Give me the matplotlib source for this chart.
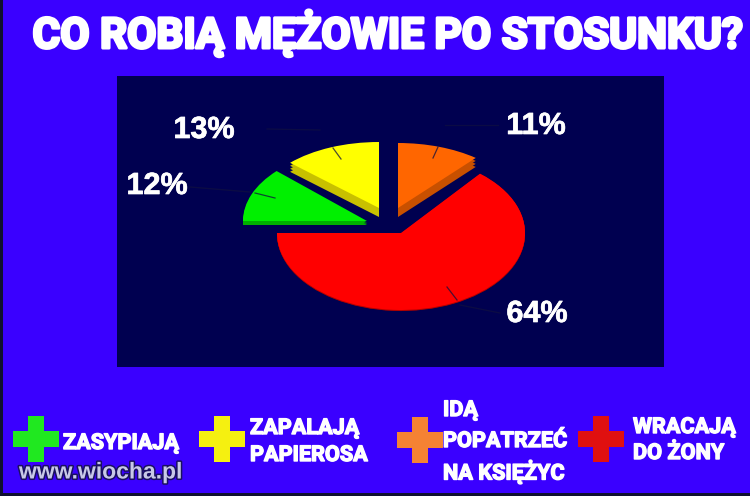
import matplotlib
matplotlib.use("Agg")
import matplotlib.pyplot as plt
from matplotlib.patches import Rectangle
from matplotlib.transforms import Affine2D
import matplotlib.patheffects as pe

title = "CO ROBIĄ MĘŻOWIE PO STOSUNKU?"
categories = ["WRACAJĄ DO ŻONY", "IDĄ POPATRZEĆ NA KSIĘŻYC", "ZAPALAJĄ PAPIEROSA", "ZASYPIAJĄ"]
shares = [64, 11, 13, 12]
top_colors = ["#FF0000", "#FF6600", "#FFFF00", "#00F000"]
side_colors = ["#B00000", "#C85000", "#C8C000", "#00B000"]
# wedge placement in pixels: apex x, apex y, radius x, radius y, extrusion depth
placement = [(401, 233, 124, 77, 1), (398, 208, 122, 65, 9), (379, 208, 122, 66, 9), (367, 221, 124, 73, 4)]
label_pos = [(537, 314), (536, 126), (204, 130), (157, 186)]
leaders = [
    [(447, 287), (457, 300)], [(460, 305), (500, 313)],
    [(438, 147), (433, 158)], [(445, 125), (498, 125)],
    [(333, 148), (341, 159)], [(267, 129), (320, 130)],
    [(255, 193), (275, 198)], [(190, 187), (250, 192)],
]

BG = "#3A00FF"
NAVY = "#000050"

fig = plt.figure(figsize=(7.5, 4.96), dpi=100, facecolor=BG)
ax = fig.add_axes([0, 0, 1, 1])

ax.add_patch(Rectangle((117, 76), 547, 291, fc=NAVY, ec="none", zorder=1))
ax.add_patch(Rectangle((0, 0), 3, 496, fc="#101030", ec="none", zorder=1))
ax.add_patch(Rectangle((0, 493), 750, 3, fc="#101030", ec="none", zorder=1))

for layer in (1.0, 0.66, 0.33):
    wedges, _ = ax.pie(shares, colors=side_colors, startangle=180, counterclock=True)
    for w, (cx, cy, rx, ry, d) in zip(wedges, placement):
        w.set_transform(Affine2D().scale(rx, -ry).translate(cx, cy + d * layer) + ax.transData)
        w.set_zorder(2)
        w.set_linewidth(0)
wedges, _ = ax.pie(shares, colors=top_colors, startangle=180, counterclock=True)
for w, (cx, cy, rx, ry, d) in zip(wedges, placement):
    w.set_transform(Affine2D().scale(rx, -ry).translate(cx, cy) + ax.transData)
    w.set_zorder(3)
    w.set_linewidth(0)

for seg in leaders:
    ax.plot([seg[0][0], seg[1][0]], [seg[0][1], seg[1][1]], color="#101040", lw=0.9, alpha=0.75, zorder=4)

for v, (x, y) in zip(shares, label_pos):
    ax.text(x, y, f"{v}%", color="white", fontsize=22, fontweight="bold",
            family="Liberation Sans", ha="center", va="center", zorder=5,
            path_effects=[pe.withStroke(linewidth=0.5, foreground="white")])

heavy = [pe.withStroke(linewidth=2.2, foreground="white")]
ax.text(388, 33, title, color="white", fontsize=30.5, fontweight="bold", family="Roboto",
        ha="center", va="center", path_effects=heavy, zorder=5)

# legend
cross_pos = [(601, 439), (420, 440), (222, 439), (36, 439)]
cross_col = ["#E01010", "#F58233", "#F5F010", "#20E820"]
ax.scatter([p[0] for p in cross_pos], [p[1] for p in cross_pos], marker="P", s=1050,
           c=cross_col, linewidths=0, zorder=4)

legend_lines = [
    [(633, 427, "WRACAJĄ"), (633, 453, "DO ŻONY")],
    [(443, 410, "IDĄ"), (443, 441, "POPATRZEĆ"), (443, 472, "NA KSIĘŻYC")],
    [(250, 428, "ZAPALAJĄ"), (250, 455, "PAPIEROSA")],
    [(63, 443, "ZASYPIAJĄ")],
]
thick = [pe.withStroke(linewidth=1.0, foreground="white")]
for group in legend_lines:
    for x, y, s in group:
        ax.text(x, y, s, color="white", fontsize=15.6, fontweight="bold", family="Roboto",
                ha="left", va="center", path_effects=thick, zorder=5)

ax.text(19, 472, "www.wiocha.pl", color="#C8C8E8", fontsize=16.5, family="Liberation Sans", fontweight="bold",
        ha="left", va="center", zorder=6,
        path_effects=[pe.withStroke(linewidth=2.2, foreground="#1A1060")])

ax.set_xlim(0, 750)
ax.set_ylim(496, 0)
ax.set_aspect("auto")
ax.set_axis_off()
fig.savefig("out.png", dpi=100, facecolor=BG)
